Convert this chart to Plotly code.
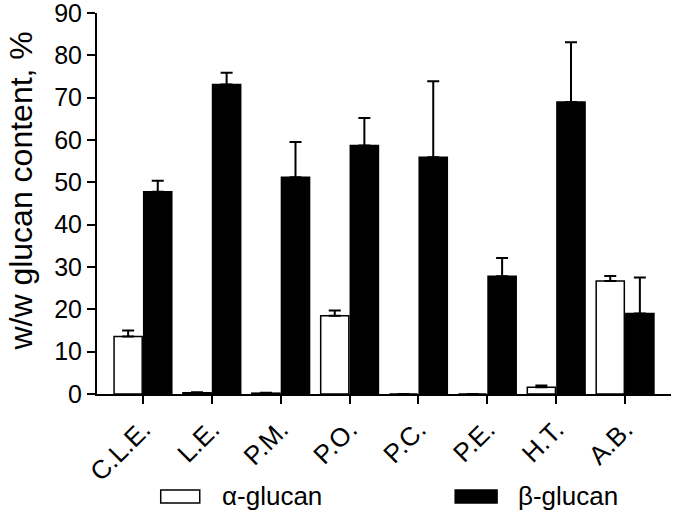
import plotly.graph_objs as go

# Samples and glucan content (w/w %), with upper error (SD)
samples = ['C.L.E.', 'L.E.', 'P.M.', 'P.O.', 'P.C.', 'P.E.', 'H.T.', 'A.B.']
alpha_vals = [13.6, 0.3, 0.2, 18.5, 0.0, 0.0, 1.6, 26.7]
alpha_err = [1.4, 0.1, 0.1, 1.2, 0.0, 0.0, 0.4, 1.2]
beta_vals = [47.8, 73.1, 51.2, 58.7, 55.9, 27.8, 69.0, 19.0]
beta_err = [2.6, 2.8, 8.3, 6.5, 18.0, 4.3, 14.1, 8.5]

font = 'Arial, Liberation Sans, sans-serif'

fig = go.Figure()
# alpha-glucan: white bars with black outline
fig.add_trace(go.Bar(x=samples, y=alpha_vals, name='α-glucan',
                     marker=dict(color='white', line=dict(color='black', width=1.5)),
                     error_y=dict(type='data', array=alpha_err, arrayminus=[0] * len(alpha_err),
                                  symmetric=False, color='black', thickness=2, width=6)))
# beta-glucan: solid black bars
fig.add_trace(go.Bar(x=samples, y=beta_vals, name='β-glucan',
                     marker=dict(color='black', line=dict(color='black', width=1.5)),
                     error_y=dict(type='data', array=beta_err, arrayminus=[0] * len(beta_err),
                                  symmetric=False, color='black', thickness=2, width=6)))

fig.update_layout(width=673, height=514, plot_bgcolor='white', paper_bgcolor='white',
                  margin=dict(l=97, r=2, t=13, b=120),
                  barmode='group', bargap=0.14, bargroupgap=0.05,
                  showlegend=False, font=dict(family=font, color='black'))

fig.update_xaxes(range=[-0.667, 7.667], showline=True, linecolor='black', linewidth=2,
                 ticks='outside', ticklen=8, tickwidth=2, tickcolor='black',
                 tickangle=-45, tickfont=dict(size=26, family=font), showgrid=False,
                 automargin=False)
fig.update_yaxes(range=[0, 90], dtick=10, showline=True, linecolor='black', linewidth=2,
                 ticks='outside', ticklen=8, tickwidth=2, tickcolor='black',
                 tickfont=dict(size=25, family=font), showgrid=False, zeroline=False,
                 ticklabeloverflow='allow', automargin=False)

# y-axis title as a rotated annotation so it can sit near the left edge
fig.add_annotation(xref='paper', yref='paper', x=-0.133, y=0.533, text='w/w glucan content, %',
                   textangle=-90, showarrow=False, xanchor='center', yanchor='middle',
                   font=dict(size=32, family=font))

# legend drawn below the plot: swatch + label
fig.add_shape(type='rect', xref='paper', yref='paper', x0=0.111, x1=0.179, y0=-0.286, y1=-0.252,
              fillcolor='white', line=dict(color='black', width=1.5))
fig.add_shape(type='rect', xref='paper', yref='paper', x0=0.624, x1=0.697, y0=-0.286, y1=-0.252,
              fillcolor='black', line=dict(color='black', width=1.5))
fig.add_annotation(xref='paper', yref='paper', x=0.215, y=-0.269, text='α-glucan',
                   showarrow=False, xanchor='left', yanchor='middle', font=dict(size=26, family=font))
fig.add_annotation(xref='paper', yref='paper', x=0.730, y=-0.269, text='β-glucan',
                   showarrow=False, xanchor='left', yanchor='middle', font=dict(size=26, family=font))

# drop the default page margin so the figure fills the window exactly
fig.write_html('out.html', config={'displayModeBar': False},
               post_script="document.body.style.margin='0';")
